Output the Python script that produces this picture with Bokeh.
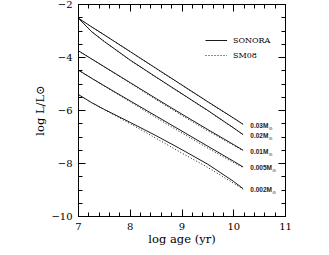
import numpy as np
from bokeh.plotting import figure
from bokeh.models import (Range1d, LinearAxis, SingleIntervalTicker, Legend, LegendItem,
                          CustomJSTickFormatter)
from bokeh.core.properties import value
from bokeh.embed import file_html
from bokeh.resources import INLINE

# ---- data ----
log_age = [7.0, 7.25, 7.5, 8.0, 8.5, 9.0, 9.5, 10.0, 10.18]

sonora_003 = [-2.52, -2.84, -3.15, -3.78, -4.41, -5.04, -5.67, -6.29, -6.52]
sonora_002 = [-2.52, -3.02, -3.40, -4.10, -4.74, -5.37, -6.00, -6.66, -6.91]
sonora_001 = [-3.75, -4.05, -4.35, -4.95, -5.55, -6.14, -6.72, -7.29, -7.50]
sonora_0005 = [-4.48, -4.78, -5.07, -5.64, -6.21, -6.78, -7.35, -7.92, -8.13]
sonora_0002 = [-5.40, -5.70, -5.96, -6.45, -6.95, -7.48, -8.03, -8.68, -8.95]

sm08_003 = [-2.52, -2.84, -3.15, -3.78, -4.42, -5.05, -5.68, -6.30, -6.52]
sm08_002 = [-2.52, -3.02, -3.40, -4.11, -4.75, -5.38, -6.01, -6.67, -6.91]
sm08_001 = [-3.75, -4.05, -4.36, -4.97, -5.59, -6.19, -6.77, -7.32, -7.51]
sm08_0005 = [-4.48, -4.78, -5.08, -5.67, -6.27, -6.85, -7.42, -7.97, -8.15]
sm08_0002 = [-5.40, -5.70, -5.97, -6.50, -7.05, -7.61, -8.15, -8.75, -8.97]

mass_labels = ["0.03M", "0.02M", "0.01M", "0.005M", "0.002M"]
x_ticks = [7, 8, 9, 10, 11]
y_ticks = [-10, -8, -6, -4, -2]

sonora = [sonora_003, sonora_002, sonora_001, sonora_0005, sonora_0002]
sm08 = [sm08_003, sm08_002, sm08_001, sm08_0005, sm08_0002]

SERIF = "DejaVu Serif"
INK = "#1a1a1a"

p = figure(width=310, height=250, x_range=Range1d(7, 11), y_range=Range1d(-10, -2),
           output_backend="svg", toolbar_location=None,
           min_border_left=78, min_border_right=25, min_border_top=4, min_border_bottom=34,
           x_axis_label="log age (yr)", y_axis_label="log L/L\u2299")
p.grid.visible = False
p.outline_line_color = "black"
p.background_fill_color = "white"
p.border_fill_color = "white"

xt = SingleIntervalTicker(interval=1, num_minor_ticks=5)
yt = SingleIntervalTicker(interval=2, num_minor_ticks=4)
blank = CustomJSTickFormatter(code="return ''")


def style(ax):
    ax.axis_line_color = "black"
    ax.major_tick_line_color = "black"
    ax.minor_tick_line_color = "black"
    ax.major_tick_in = 7
    ax.major_tick_out = 0
    ax.minor_tick_in = 4
    ax.minor_tick_out = 0
    ax.major_label_text_font = SERIF
    ax.major_label_text_font_size = "10px"
    ax.major_label_text_color = "black"
    ax.axis_label_text_font = SERIF
    ax.axis_label_text_font_size = "11.5px"
    ax.axis_label_text_font_style = "normal"
    ax.axis_label_text_color = "black"


xa = p.xaxis[0]
xa.ticker = xt
style(xa)
xa.major_label_standoff = 6
xa.axis_label_standoff = -1
xa.major_label_overrides = {t: str(t) for t in x_ticks}

ya = p.yaxis[0]
ya.ticker = yt
style(ya)
ya.major_label_standoff = 6
ya.axis_label_standoff = 1
ya.major_label_overrides = {t: "\u2212" + str(abs(t)) for t in y_ticks}

top = LinearAxis(ticker=xt, formatter=blank)
style(top)
top.major_label_standoff = 0
top.major_label_text_font_size = "1px"
p.add_layout(top, "above")

right = LinearAxis(ticker=yt, formatter=blank)
style(right)
right.major_label_standoff = 0
right.major_label_text_font_size = "1px"
p.add_layout(right, "right")

solid_r = []
dot_r = []
for s_vals, m_vals in zip(sonora, sm08):
    rd = p.line(log_age, m_vals, line_color=INK, line_width=1, line_dash="1 2")
    rs = p.line(log_age, s_vals, line_color=INK, line_width=1)
    solid_r.append(rs)
    dot_r.append(rd)

legend = Legend(items=[LegendItem(label="SONORA", renderers=[solid_r[0]]),
                       LegendItem(label="SM08", renderers=[dot_r[0]])],
                location=(127, 155), padding=5, margin=0, spacing=3,
                glyph_width=22, glyph_height=12, label_height=12, label_standoff=6,
                border_line_color=None, background_fill_alpha=0,
                label_text_font=SERIF, label_text_font_size="8px", label_text_color="black")
p.add_layout(legend)

# mass labels at the curve ends
lab_x = [10.32] * len(mass_labels)
lab_y = [v[-1] for v in sonora]
p.text(x=lab_x, y=lab_y, text=mass_labels, text_font=value("Liberation Sans"),
       text_font_style="bold", text_font_size="6.5px", text_baseline="middle",
       text_align="left", y_offset=1, text_color="#222222")

# subscript solar symbols after each label
adv = {"0": 0.556, "1": 0.556, "2": 0.556, "3": 0.556, "5": 0.556, ".": 0.278, "M": 0.833}
for lx, ly, t in zip(lab_x, lab_y, mass_labels):
    w = 6.5 * sum(adv[c] for c in t)
    p.text(x=[lx], y=[ly], text=["\u2299"], text_font=value("DejaVu Sans"),
           text_font_size="4.5px", text_baseline="middle", text_align="left",
           x_offset=w + 0.3, y_offset=4, text_color="#222222")

open("out.html", "w").write(file_html(p, INLINE))
